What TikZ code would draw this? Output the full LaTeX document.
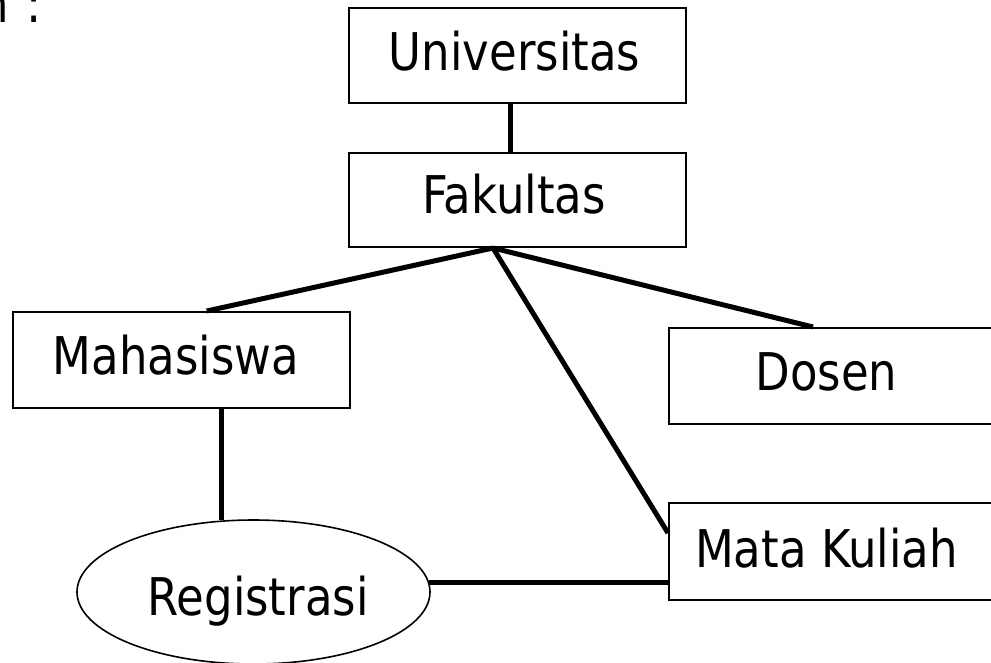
\documentclass[tikz,border=0pt]{standalone}
\usepackage{fontspec}
\setmainfont{DejaVu Sans}[FakeStretch=0.865]
\usetikzlibrary{shapes.geometric}
\begin{document}
\begin{tikzpicture}[x=1pt,y=-1pt,
  every node/.style={font=\fontsize{52}{62}\selectfont, inner sep=0pt},
  box/.style={draw, line width=2pt, rectangle, minimum width=337pt, text depth=0pt},
  ell/.style={draw, line width=1.6pt, ellipse, minimum width=353pt, minimum height=144pt, text depth=0pt},
  conn/.style={line width=5pt}]
\useasboundingbox (0,0) rectangle (991,662);
\fill[white] (0,0) rectangle (991,662);
% fragment of a text line above the picture
\node[anchor=base west] (frag) at (-19.8,22) {n\hspace{18pt}:};
% entities
\node[box, minimum height=95pt, text height=29pt] (u) at (517.5,55.5) {Universitas\hspace*{6pt}};
\node[box, minimum height=94pt, text height=26pt] (f) at (517.5,200) {Fakultas\hspace*{7pt}};
\node[box, minimum height=96pt, text height=28pt] (m) at (181.5,360) {Mahasiswa\hspace*{11pt}};
\node[box, minimum height=96pt, text height=28pt] (d) at (837.5,376) {Dosen\hspace*{22pt}};
\node[box, minimum height=97pt, text height=31pt] (mk) at (837.5,551.5) {Mata Kuliah\hspace*{22pt}};
\node[ell, text height=46pt] (r) at (253.5,592) {\hspace*{9pt}Registrasi};
% connectors
\draw[conn] ([xshift=-7.5pt]u.south) -- ([xshift=-7.5pt]f.north);
\coordinate (fb) at ([xshift=-24.5pt]f.south);
\draw[conn] (fb) -- ([xshift=25.2pt]m.north);
\draw[conn] (fb) -- ([xshift=-24.5pt]d.north);
\draw[conn] (fb) -- ([yshift=18.5pt]mk.west);
\draw[conn] ([xshift=40pt]m.south) -- ([xshift=40pt]m.south |- r.114);
\draw[conn] (r.3) -- (r.3 -| mk.west);
\end{tikzpicture}
\end{document}
